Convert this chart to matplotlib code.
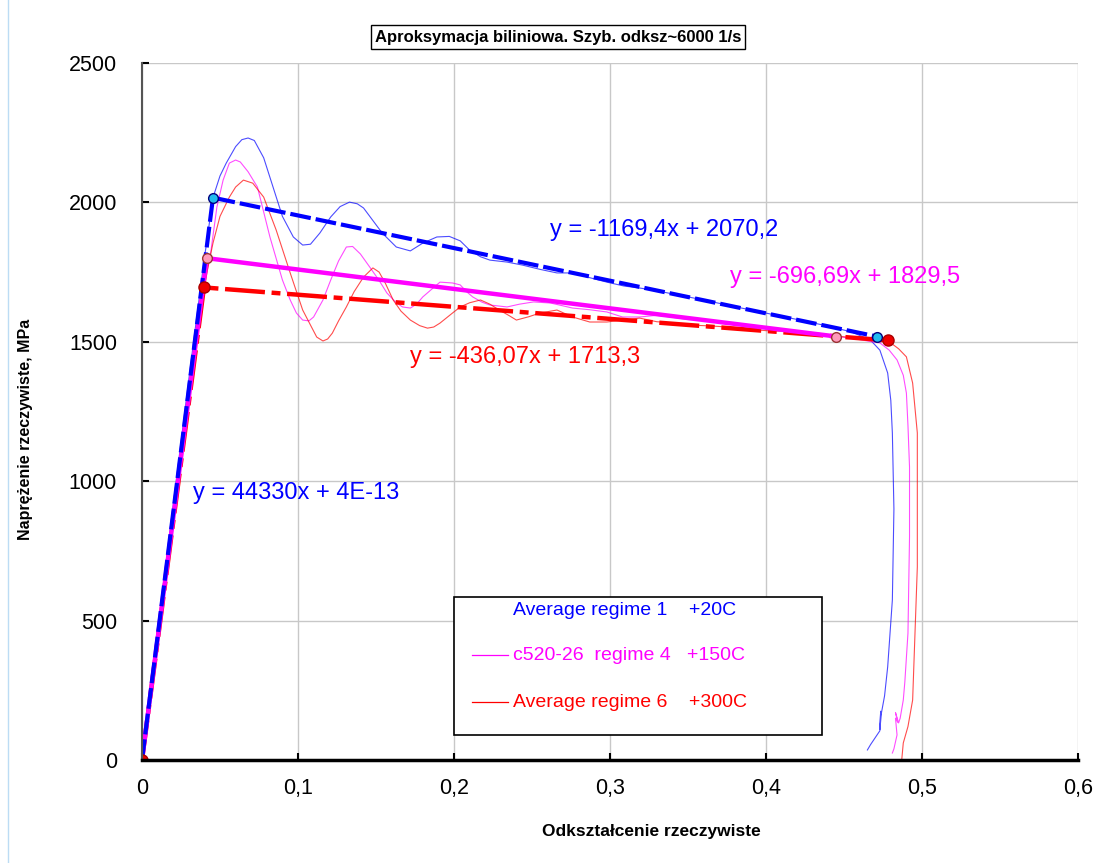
import matplotlib
matplotlib.use("Agg")
import matplotlib.pyplot as plt
from matplotlib.patches import Rectangle
from matplotlib.lines import Line2D
from matplotlib.ticker import FuncFormatter

plt.rcParams['font.family'] = ['Liberation Sans', 'DejaVu Sans']

# raw curves: true strain / true stress (MPa)
blue_x = [0, 0.005, 0.01, 0.015, 0.02, 0.025, 0.03, 0.035, 0.04, 0.0455, 0.05, 0.054, 0.06, 0.064,
          0.068, 0.072, 0.078, 0.084, 0.09, 0.097, 0.103, 0.108, 0.114, 0.121, 0.127, 0.133, 0.138,
          0.142, 0.148, 0.154, 0.163, 0.172, 0.18, 0.189, 0.197, 0.204, 0.21, 0.217, 0.223, 0.234,
          0.244, 0.255, 0.266, 0.276, 0.287, 0.298, 0.309, 0.319, 0.33, 0.34, 0.36, 0.38, 0.40,
          0.42, 0.44, 0.455, 0.467, 0.473, 0.478, 0.48, 0.481, 0.482, 0.481, 0.478, 0.476, 0.474,
          0.473, 0.4735, 0.473, 0.47, 0.467, 0.465]
blue_y = [0, 230, 460, 690, 915, 1140, 1365, 1585, 1800, 2017, 2095, 2141, 2200, 2225,
          2231, 2222, 2160, 2055, 1950, 1876, 1847, 1850, 1890, 1948, 1985, 2001, 1995,
          1980, 1935, 1890, 1840, 1826, 1854, 1876, 1878, 1862, 1829, 1805, 1793, 1786,
          1775, 1760, 1747, 1747, 1730, 1714, 1700, 1693, 1683, 1672, 1650, 1626, 1603,
          1580, 1556, 1535, 1506, 1470, 1388, 1290, 1173, 900, 574, 334, 230, 169,
          110, 175, 105, 80, 55, 36]

mag_x = [0, 0.005, 0.01, 0.015, 0.02, 0.025, 0.03, 0.035, 0.04, 0.044, 0.048, 0.052, 0.056, 0.06,
         0.063, 0.068, 0.074, 0.082, 0.09, 0.095, 0.099, 0.103, 0.107, 0.11, 0.116, 0.121, 0.126,
         0.131, 0.135, 0.14, 0.146, 0.152, 0.157, 0.163, 0.167, 0.172, 0.176, 0.18, 0.186, 0.191,
         0.199, 0.204, 0.208, 0.212, 0.218, 0.223, 0.234, 0.242, 0.251, 0.262, 0.276, 0.287,
         0.298, 0.308, 0.319, 0.33, 0.34, 0.35, 0.36, 0.37, 0.38, 0.39, 0.40, 0.41, 0.42, 0.43,
         0.44, 0.45, 0.46, 0.468, 0.473, 0.479, 0.484, 0.488, 0.49, 0.491, 0.492, 0.492, 0.491,
         0.489, 0.488, 0.486, 0.485, 0.483, 0.4845, 0.483, 0.484, 0.482, 0.481]
mag_y = [0, 215, 430, 650, 870, 1090, 1310, 1520, 1700, 1818, 1983, 2080, 2141, 2152,
         2145, 2110, 2055, 1876, 1722, 1650, 1603, 1578, 1575, 1589, 1650, 1722, 1790,
         1840, 1842, 1815, 1768, 1720, 1675, 1640, 1625, 1621, 1635, 1661, 1690, 1714,
         1711, 1704, 1680, 1661, 1642, 1632, 1625, 1635, 1643, 1639, 1621, 1615,
         1607, 1589, 1589, 1595, 1588, 1580, 1578, 1568, 1565, 1558, 1553, 1545, 1540, 1532,
         1525, 1516, 1508, 1500, 1496, 1470, 1435, 1380, 1316, 1200, 1051, 800, 455,
         280, 215, 150, 133, 170, 135, 150, 90, 40, 25]

red_x = [0, 0.005, 0.01, 0.015, 0.02, 0.025, 0.03, 0.034, 0.038, 0.042, 0.0455, 0.05, 0.056, 0.06,
         0.065, 0.071, 0.078, 0.086, 0.095, 0.103, 0.108, 0.112, 0.116, 0.119, 0.122, 0.126, 0.131,
         0.136, 0.142, 0.148, 0.152, 0.156, 0.161, 0.166, 0.172, 0.178, 0.183, 0.187, 0.191, 0.199,
         0.204, 0.21, 0.217, 0.223, 0.229, 0.235, 0.24, 0.248, 0.255, 0.266, 0.276, 0.287, 0.298,
         0.308, 0.319, 0.33, 0.34, 0.35, 0.36, 0.37, 0.38, 0.39, 0.40, 0.41, 0.42, 0.43, 0.44,
         0.45, 0.46, 0.47, 0.479, 0.485, 0.49, 0.494, 0.497, 0.497, 0.494, 0.491, 0.488, 0.487]
red_y = [0, 210, 420, 635, 850, 1065, 1280, 1455, 1625, 1760, 1854, 1950, 2019, 2055,
         2080, 2069, 2019, 1901, 1747, 1614, 1560, 1517, 1503, 1510, 1531, 1575, 1625,
         1680, 1732, 1765, 1750, 1710, 1650, 1610, 1578, 1558, 1549, 1553, 1567, 1603,
         1625, 1640, 1650, 1635, 1614, 1595, 1578, 1590, 1603, 1614, 1589, 1571, 1571,
         1578, 1585, 1572, 1568, 1560, 1558, 1555, 1550, 1545, 1540, 1538, 1532, 1527, 1522,
         1518, 1513, 1507, 1500, 1475, 1446, 1352, 1173, 692, 215, 120, 61, 0]

# bilinear approximations (origin, knee, end)
blue_fit_x = [0, 0.0455, 0.471]
blue_fit_y = [0, 2017, 1519]
mag_fit_x = [0, 0.0415, 0.445]
mag_fit_y = [0, 1800, 1519]
red_fit_x = [0, 0.0397, 0.478]
red_fit_y = [0, 1695, 1505]

legend_labels = ["Average regime 1    +20C", "c520-26  regime 4   +150C", "Average regime 6    +300C"]
eq_labels = ["y = -1169,4x + 2070,2", "y = -696,69x + 1829,5", "y = -436,07x + 1713,3", "y = 44330x + 4E-13"]

BLUE, MAG, RED = '#0000FF', '#FF00FF', '#FF0000'

fig = plt.figure(figsize=(11.07, 8.63), dpi=100)
ax = fig.add_axes([142 / 1107, 1 - 760 / 863, 936 / 1107, 697 / 863])

ax.plot(blue_x, blue_y, color=BLUE, lw=0.8, alpha=0.7)
ax.plot(mag_x, mag_y, color=MAG, lw=0.8, alpha=0.7)
ax.plot(red_x, red_y, color=RED, lw=0.8, alpha=0.7)

ax.plot(red_fit_x, red_fit_y, color=RED, lw=3.2, ls=(0, (9, 1.5, 2, 1.5)))
ax.plot(mag_fit_x, mag_fit_y, color=MAG, lw=3.2)
ax.plot(blue_fit_x, blue_fit_y, color=BLUE, lw=3, ls=(0, (5, 1.2)))

ax.plot(blue_fit_x[1:], blue_fit_y[1:], 'o', ms=7, mfc='#22BBEE', mec='#000080', mew=1, ls='none')
ax.plot(mag_fit_x[1:], mag_fit_y[1:], 'o', ms=7, mfc='#FF99BB', mec='#993333', mew=1, ls='none')
ax.plot(red_fit_x, red_fit_y, 'o', ms=8, mfc='#EE0000', mec='#AA0000', mew=1, ls='none')

ax.text(0.2615, 1901, eq_labels[0], color=BLUE, fontsize=17, va='center')
ax.text(0.377, 1732, eq_labels[1], color=MAG, fontsize=17, va='center')
ax.text(0.1718, 1445, eq_labels[2], color=RED, fontsize=17, va='center')
ax.text(0.0327, 958, eq_labels[3], color=BLUE, fontsize=17, va='center')

ax.set_xlim(0, 0.6)
ax.set_ylim(0, 2500)
ax.set_xticks([0, 0.1, 0.2, 0.3, 0.4, 0.5, 0.6])
ax.set_yticks([0, 500, 1000, 1500, 2000, 2500])
ax.xaxis.set_major_formatter(FuncFormatter(lambda v, p: f"{v:g}".replace('.', ',')))
ax.grid(True, color='#c8c8c8', lw=1)
ax.set_axisbelow(True)
for s in ['top', 'right']:
    ax.spines[s].set_visible(False)
ax.spines['left'].set_color('#555555')
ax.spines['left'].set_linewidth(1.5)
ax.spines['bottom'].set_color('black')
ax.spines['bottom'].set_linewidth(2.5)
ax.tick_params(axis='both', direction='in', length=5, width=1.5, labelsize=15.5, color='black')
ax.tick_params(axis='y', pad=18)
ax.tick_params(axis='x', pad=13)

ax.set_xlabel("Odkształcenie rzeczywiste", fontsize=12.5, fontweight='bold')
ax.xaxis.set_label_coords(0.544, -0.102)
ax.xaxis.label.set_va('center')
ax.set_ylabel("Naprężenie rzeczywiste, MPa", fontsize=11.5, fontweight='bold')
ax.yaxis.set_label_coords(-0.1165, 0.475)

# legend box
ax.add_patch(Rectangle((0.3333, 0.0359), 0.3932, 0.198, transform=ax.transAxes,
                       facecolor='white', edgecolor='black', lw=1.2, zorder=5))
rows = [0.2152, 0.1506, 0.0832]
for lab, col, yy, show in zip(legend_labels, [BLUE, MAG, RED], rows, [False, True, True]):
    if show:
        ax.add_line(Line2D([0.3526, 0.391], [yy, yy], transform=ax.transAxes, color=col, lw=0.9, zorder=6))
    ax.text(0.3964, yy, lab, transform=ax.transAxes, color=col, fontsize=14, va='center', zorder=6)

fig.text(0.504, 0.957, "Aproksymacja biliniowa. Szyb. odksz~6000 1/s", ha='center', va='center',
         fontsize=12, fontweight='bold',
         bbox=dict(boxstyle='square,pad=0.25', facecolor='white', edgecolor='black', lw=1))

fig.add_artist(Line2D([8 / 1107, 8 / 1107], [0, 1], color='#bcdcf4', lw=1))

fig.savefig("out.png", dpi=100)
